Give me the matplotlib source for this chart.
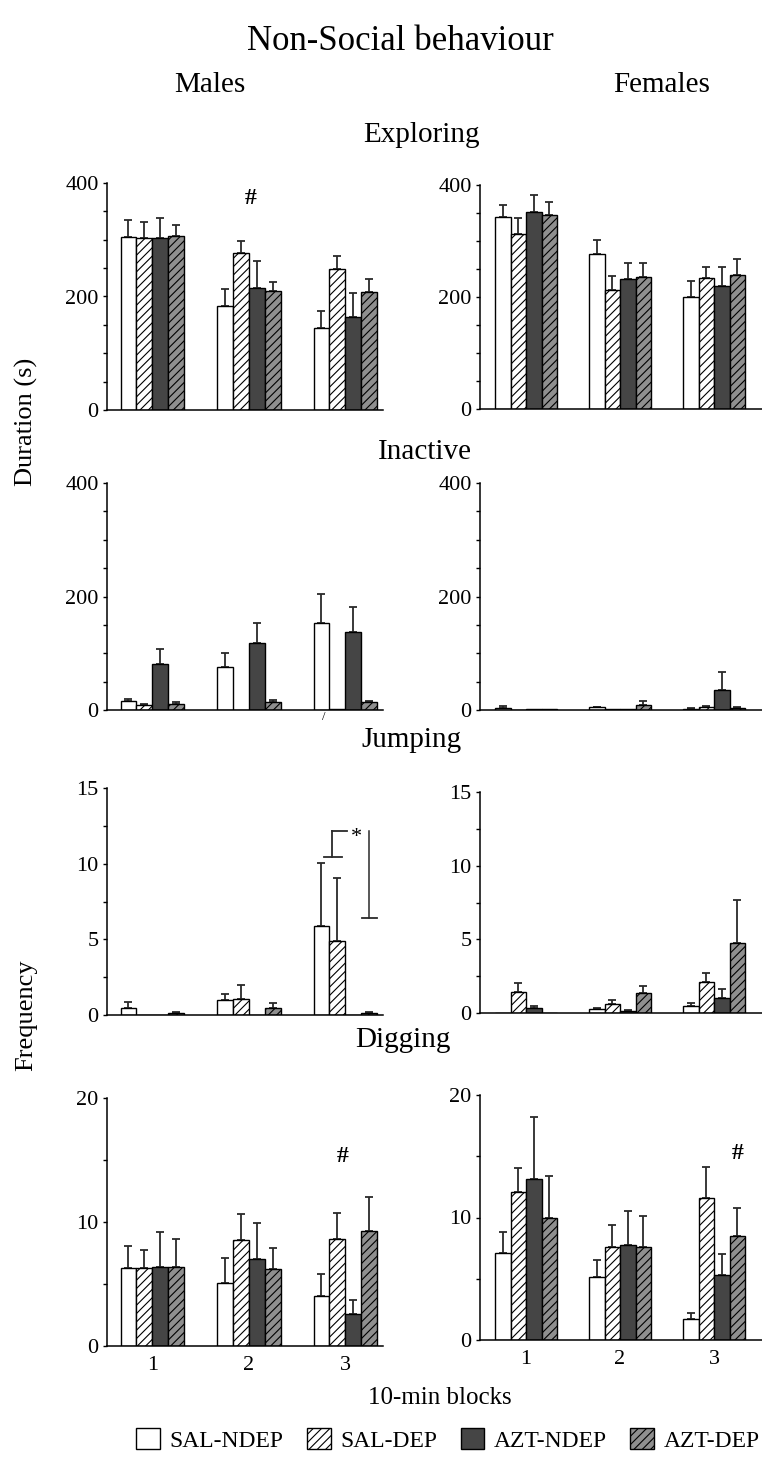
import numpy as np
import matplotlib
matplotlib.use("Agg")
import matplotlib.pyplot as plt
from matplotlib.patches import Patch
from matplotlib.ticker import MultipleLocator

plt.rcParams['font.family'] = ['Liberation Serif', 'DejaVu Serif']
plt.rcParams['hatch.linewidth'] = 0.8

groups = ['SAL-NDEP', 'SAL-DEP', 'AZT-NDEP', 'AZT-DEP']
blocks = ['1', '2', '3']

# means per group (blocks 1, 2, 3) and upper error (SEM)
explo_m = [[305, 184, 144], [303, 276, 248], [303, 215, 164], [307, 209, 208]]
explo_m_err = [[29, 30, 31], [28, 22, 23], [35, 47, 42], [19, 16, 23]]
explo_f = [[342, 276, 200], [313, 213, 234], [351, 232, 219], [347, 235, 240]]
explo_f_err = [[22, 26, 28], [28, 25, 19], [31, 28, 34], [23, 25, 28]]

inact_m = [[16, 75, 154], [8, 0, 1], [81, 118, 138], [11, 14, 14]]
inact_m_err = [[3, 26, 50], [2, 0, 0], [26, 36, 44], [3, 4, 2]]
inact_f = [[4, 5, 2], [0, 1, 6], [1, 1, 36], [1, 9, 4]]
inact_f_err = [[3, 1, 1], [0, 0, 1], [0, 0, 31], [0, 6, 1]]

jump_m = [[0.49, 1.0, 5.85], [0, 1.06, 4.9], [0, 0, 0], [0.15, 0.49, 0.15]]
jump_m_err = [[0.39, 0.37, 4.19], [0, 0.93, 4.14], [0, 0, 0], [0.05, 0.28, 0.05]]
jump_f = [[0, 0.29, 0.45], [1.43, 0.61, 2.08], [0.34, 0.15, 1.04], [0, 1.36, 4.75]]
jump_f_err = [[0, 0.07, 0.21], [0.61, 0.25, 0.61], [0.16, 0.05, 0.56], [0, 0.5, 2.94]]

dig_m = [[6.27, 5.09, 4.06], [6.27, 8.53, 8.61], [6.35, 7.0, 2.61], [6.38, 6.19, 9.29]]
dig_m_err = [[1.81, 1.99, 1.73], [1.51, 2.10, 2.13], [2.85, 2.9, 1.1], [2.21, 1.7, 2.71]]
dig_f = [[7.13, 5.17, 1.69], [12.11, 7.56, 11.56], [13.14, 7.73, 5.28], [9.99, 7.56, 8.49]]
dig_f_err = [[1.71, 1.33, 0.49], [1.9, 1.8, 2.59], [5.04, 2.77, 1.74], [3.4, 2.56, 2.31]]

faces = ['white', 'white', '#454545', '#8f8f8f']
hatches = [None, '////', None, '////']

W, H = 762, 1471
fig = plt.figure(figsize=(W / 100, H / 100), dpi=100)

def box(x0, x1, ytop, ybot):
    return [x0 / W, 1 - ybot / H, (x1 - x0) / W, (ybot - ytop) / H]

bw = 0.165

def panel(rect, means, errs, ymax, major, minor, xlim, bottom=False):
    ax = fig.add_axes(rect)
    x = np.arange(3)
    for i in range(4):
        pos = x + (i - 1.5) * bw
        ax.bar(pos, means[i], width=bw, color=faces[i], edgecolor='black',
               linewidth=1.0, hatch=hatches[i], zorder=2)
        m = np.array(means[i], float)
        e = np.array(errs[i], float)
        keep = e > 0
        ax.errorbar(pos[keep], m[keep], yerr=[np.zeros(keep.sum()), e[keep]],
                    fmt='none', ecolor='#2a2a2a', elinewidth=1.3, capsize=3.2,
                    capthick=1.3, zorder=1)
    ax.set_ylim(0, ymax)
    ax.set_xlim(*xlim)
    ax.yaxis.set_major_locator(MultipleLocator(major))
    ax.yaxis.set_minor_locator(MultipleLocator(minor))
    ax.tick_params(axis='y', which='both', direction='out', length=3,
                   width=1, labelsize=16, pad=3)
    ax.spines['top'].set_visible(False)
    ax.spines['right'].set_visible(False)
    ax.spines['left'].set_linewidth(1.1)
    ax.spines['bottom'].set_linewidth(1.1)
    if bottom:
        ax.set_xticks(x)
        ax.set_xticklabels(blocks)
        ax.tick_params(axis='x', length=0, labelsize=16, pad=7)
    else:
        ax.set_xticks([])
    return ax

xl_l = (-0.47, 2.39)
xl_r = (-0.49, 2.51)

ax1 = panel(box(107, 383, 183, 410), explo_m, explo_m_err, 400, 200, 50, xl_l)
ax2 = panel(box(480, 762, 185, 409), explo_f, explo_f_err, 400, 200, 50, xl_r)
ax3 = panel(box(107, 383, 483, 710), inact_m, inact_m_err, 400, 200, 50, xl_l)
ax4 = panel(box(480, 762, 483, 710), inact_f, inact_f_err, 400, 200, 50, xl_r)
ax5 = panel(box(107, 383, 788, 1015), jump_m, jump_m_err, 15, 5, 2.5, xl_l)
ax6 = panel(box(480, 762, 792, 1013), jump_f, jump_f_err, 15, 5, 2.5, xl_r)
ax7 = panel(box(107, 383, 1098, 1346), dig_m, dig_m_err, 20, 10, 5, xl_l, bottom=True)
ax8 = panel(box(480, 762, 1095, 1340), dig_f, dig_f_err, 20, 10, 5, xl_r, bottom=True)

# significance marks
ax1.text(1.02, 373, '#', ha='center', va='center', fontsize=17, fontweight='bold')
ax7.text(1.97, 15.3, '#', ha='center', va='center', fontsize=17, fontweight='bold')
ax8.text(2.255, 15.2, '#', ha='center', va='center', fontsize=17, fontweight='bold')
ax3.text(1.78, -12, '/', ha='center', va='center', fontsize=9, clip_on=False)

lc = '#2a2a2a'
ax5.plot([1.78, 1.97], [10.46, 10.46], color=lc, lw=1.3)
ax5.plot([1.865, 1.865], [10.46, 12.18], color=lc, lw=1.3)
ax5.plot([1.865, 2.02], [12.18, 12.18], color=lc, lw=1.3)
ax5.text(2.11, 11.75, '*', ha='center', va='center', fontsize=16)
ax5.plot([2.2475, 2.2475], [6.4, 12.18], color=lc, lw=1.1, clip_on=False)
ax5.plot([2.17, 2.33], [6.4, 6.4], color=lc, lw=1.3, clip_on=False)

# titles
fig.text(400 / W, 1 - 42 / H, 'Non-Social behaviour', ha='center', va='center', fontsize=25)
fig.text(210 / W, 1 - 85 / H, 'Males', ha='center', va='center', fontsize=21)
fig.text(662 / W, 1 - 85 / H, 'Females', ha='center', va='center', fontsize=21)
fig.text(421 / W, 1 - 135 / H, 'Exploring', ha='center', va='center', fontsize=21)
fig.text(425 / W, 1 - 452 / H, 'Inactive', ha='center', va='center', fontsize=21)
fig.text(411 / W, 1 - 740 / H, 'Jumping', ha='center', va='center', fontsize=21)
fig.text(403 / W, 1 - 1040 / H, 'Digging', ha='center', va='center', fontsize=21)
fig.text(26 / W, 1 - 422 / H, 'Duration (s)', rotation=90, ha='center', va='center', fontsize=19)
fig.text(26 / W, 1 - 1015 / H, 'Frequency', rotation=90, ha='center', va='center', fontsize=19)
fig.text(440 / W, 1 - 1398 / H, '10-min blocks', ha='center', va='center', fontsize=18)

handles = [Patch(facecolor=faces[i], edgecolor='black', hatch=hatches[i], linewidth=1.0)
           for i in range(4)]
fig.legend(handles, groups, loc='center', bbox_to_anchor=(448 / W, 1 - 1440 / H),
           ncol=4, frameon=False, fontsize=17, handlelength=1.0, handleheight=1.0,
           handletextpad=0.4, columnspacing=1.0)

fig.savefig('out.png', dpi=100)
